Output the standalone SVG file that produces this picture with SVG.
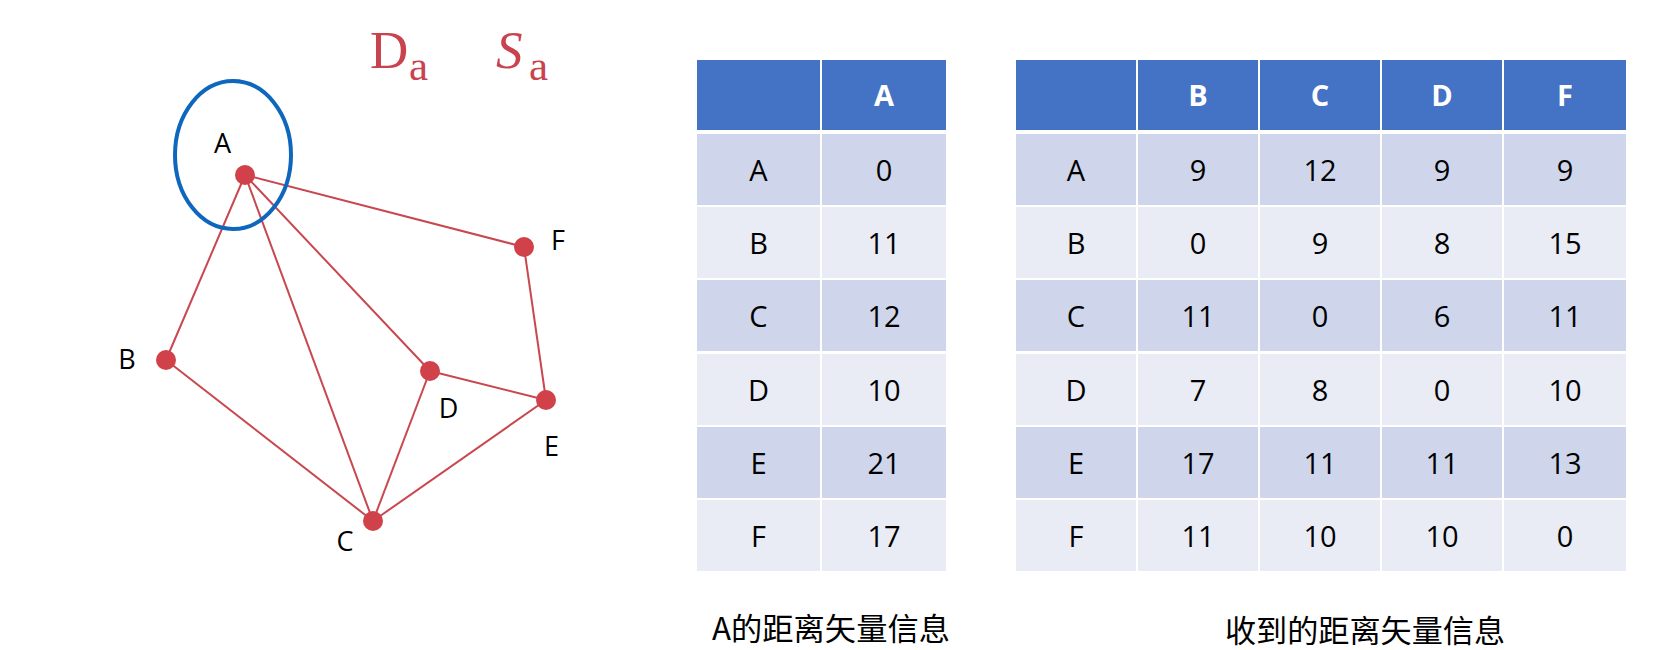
<svg xmlns="http://www.w3.org/2000/svg" width="1666" height="650" viewBox="0 0 1666 650">
<style>
.edge{stroke:#c9474f;stroke-width:2;fill:none}
.node{fill:#d0414a}
.lbl{font-family:"Open Sans","Liberation Sans",sans-serif;font-size:27px;fill:#000;text-anchor:middle}
.hd{fill:#4472c4}
.odd{fill:#cfd5ea}
.even{fill:#e9ebf5}
.ht{font-family:"Open Sans","Liberation Sans",sans-serif;font-size:29px;font-weight:bold;fill:#fff;text-anchor:middle}
.ct{font-family:"Open Sans","Liberation Sans",sans-serif;font-size:29px;fill:#000;text-anchor:middle}
.cap{font-family:"Noto Sans CJK SC","Noto Sans",sans-serif;font-size:31px;fill:#000}
.red{font-family:"Liberation Serif",serif;fill:#c8434e}
</style>
<rect width="1666" height="650" fill="#fff"/>
<g id="title">
<text class="red" x="370" y="68" font-size="53">D</text>
<text class="red" x="409" y="80" font-size="43">a</text>
<text class="red" x="496" y="68" font-size="53" font-style="italic">S</text>
<text class="red" x="529" y="80" font-size="43">a</text>
</g>
<g id="connectors">
<line class="edge" x1="245" y1="175" x2="166" y2="360"/>
<line class="edge" x1="245" y1="175" x2="373" y2="521"/>
<line class="edge" x1="245" y1="175" x2="430" y2="371"/>
<line class="edge" x1="245" y1="175" x2="524" y2="247"/>
<line class="edge" x1="166" y1="360" x2="373" y2="521"/>
<line class="edge" x1="373" y1="521" x2="430" y2="371"/>
<line class="edge" x1="373" y1="521" x2="546" y2="400"/>
<line class="edge" x1="430" y1="371" x2="546" y2="400"/>
<line class="edge" x1="524" y1="247" x2="546" y2="400"/>
</g>
<ellipse id="highlight" cx="233" cy="155" rx="58" ry="74" fill="none" stroke="#0f67bd" stroke-width="4"/>
<g id="node-A"><circle class="node" cx="245" cy="175" r="10"/><text class="lbl" x="222.5" y="153">A</text></g>
<g id="node-B"><circle class="node" cx="166" cy="360" r="10"/><text class="lbl" x="127" y="369">B</text></g>
<g id="node-C"><circle class="node" cx="373" cy="521" r="10"/><text class="lbl" x="345" y="551">C</text></g>
<g id="node-D"><circle class="node" cx="430" cy="371" r="10"/><text class="lbl" x="448.5" y="418">D</text></g>
<g id="node-E"><circle class="node" cx="546" cy="400" r="10"/><text class="lbl" x="551.5" y="456">E</text></g>
<g id="node-F"><circle class="node" cx="524" cy="247" r="10"/><text class="lbl" x="558" y="250">F</text></g>

<g id="table-A">
<rect class="hd" x="697" y="60" width="123" height="70"/>
<rect class="hd" x="822" y="60" width="124" height="70"/>
<text class="ht" x="884" y="106">A</text>
<rect class="odd" x="697" y="134" width="123" height="71"/><rect class="odd" x="822" y="134" width="124" height="71"/>
<rect class="even" x="697" y="207" width="123" height="71"/><rect class="even" x="822" y="207" width="124" height="71"/>
<rect class="odd" x="697" y="280" width="123" height="71"/><rect class="odd" x="822" y="280" width="124" height="71"/>
<rect class="even" x="697" y="354" width="123" height="71"/><rect class="even" x="822" y="354" width="124" height="71"/>
<rect class="odd" x="697" y="427" width="123" height="71"/><rect class="odd" x="822" y="427" width="124" height="71"/>
<rect class="even" x="697" y="500" width="123" height="71"/><rect class="even" x="822" y="500" width="124" height="71"/>
<text class="ct" x="758.5" y="180.5">A</text><text class="ct" x="884" y="180.5">0</text>
<text class="ct" x="758.5" y="253.5">B</text><text class="ct" x="884" y="253.5">11</text>
<text class="ct" x="758.5" y="326.5">C</text><text class="ct" x="884" y="326.5">12</text>
<text class="ct" x="758.5" y="400.5">D</text><text class="ct" x="884" y="400.5">10</text>
<text class="ct" x="758.5" y="473.5">E</text><text class="ct" x="884" y="473.5">21</text>
<text class="ct" x="758.5" y="546.5">F</text><text class="ct" x="884" y="546.5">17</text>
</g>

<g id="table-received">
<rect class="hd" x="1016" y="60" width="120" height="70"/>
<rect class="hd" x="1138" y="60" width="120" height="70"/>
<rect class="hd" x="1260" y="60" width="120" height="70"/>
<rect class="hd" x="1382" y="60" width="120" height="70"/>
<rect class="hd" x="1504" y="60" width="122" height="70"/>
<text class="ht" x="1198" y="106">B</text>
<text class="ht" x="1320" y="106">C</text>
<text class="ht" x="1442" y="106">D</text>
<text class="ht" x="1565" y="106">F</text>

<g class="odd">
<rect x="1016" y="134" width="120" height="71"/><rect x="1138" y="134" width="120" height="71"/><rect x="1260" y="134" width="120" height="71"/><rect x="1382" y="134" width="120" height="71"/><rect x="1504" y="134" width="122" height="71"/>
<rect x="1016" y="280" width="120" height="71"/><rect x="1138" y="280" width="120" height="71"/><rect x="1260" y="280" width="120" height="71"/><rect x="1382" y="280" width="120" height="71"/><rect x="1504" y="280" width="122" height="71"/>
<rect x="1016" y="427" width="120" height="71"/><rect x="1138" y="427" width="120" height="71"/><rect x="1260" y="427" width="120" height="71"/><rect x="1382" y="427" width="120" height="71"/><rect x="1504" y="427" width="122" height="71"/>
</g>
<g class="even">
<rect x="1016" y="207" width="120" height="71"/><rect x="1138" y="207" width="120" height="71"/><rect x="1260" y="207" width="120" height="71"/><rect x="1382" y="207" width="120" height="71"/><rect x="1504" y="207" width="122" height="71"/>
<rect x="1016" y="354" width="120" height="71"/><rect x="1138" y="354" width="120" height="71"/><rect x="1260" y="354" width="120" height="71"/><rect x="1382" y="354" width="120" height="71"/><rect x="1504" y="354" width="122" height="71"/>
<rect x="1016" y="500" width="120" height="71"/><rect x="1138" y="500" width="120" height="71"/><rect x="1260" y="500" width="120" height="71"/><rect x="1382" y="500" width="120" height="71"/><rect x="1504" y="500" width="122" height="71"/>
</g>
<text class="ct" x="1076" y="180.5">A</text><text class="ct" x="1198" y="180.5">9</text><text class="ct" x="1320" y="180.5">12</text><text class="ct" x="1442" y="180.5">9</text><text class="ct" x="1565" y="180.5">9</text>
<text class="ct" x="1076" y="253.5">B</text><text class="ct" x="1198" y="253.5">0</text><text class="ct" x="1320" y="253.5">9</text><text class="ct" x="1442" y="253.5">8</text><text class="ct" x="1565" y="253.5">15</text>
<text class="ct" x="1076" y="326.5">C</text><text class="ct" x="1198" y="326.5">11</text><text class="ct" x="1320" y="326.5">0</text><text class="ct" x="1442" y="326.5">6</text><text class="ct" x="1565" y="326.5">11</text>
<text class="ct" x="1076" y="400.5">D</text><text class="ct" x="1198" y="400.5">7</text><text class="ct" x="1320" y="400.5">8</text><text class="ct" x="1442" y="400.5">0</text><text class="ct" x="1565" y="400.5">10</text>
<text class="ct" x="1076" y="473.5">E</text><text class="ct" x="1198" y="473.5">17</text><text class="ct" x="1320" y="473.5">11</text><text class="ct" x="1442" y="473.5">11</text><text class="ct" x="1565" y="473.5">13</text>
<text class="ct" x="1076" y="546.5">F</text><text class="ct" x="1198" y="546.5">11</text><text class="ct" x="1320" y="546.5">10</text><text class="ct" x="1442" y="546.5">10</text><text class="ct" x="1565" y="546.5">0</text>
</g>

<g id="captions">
<text class="cap" x="712" y="640" textLength="238" lengthAdjust="spacingAndGlyphs">A的距离矢量信息</text>
<text class="cap" x="1225" y="642" textLength="280" lengthAdjust="spacingAndGlyphs">收到的距离矢量信息</text>
</g>
</svg>
